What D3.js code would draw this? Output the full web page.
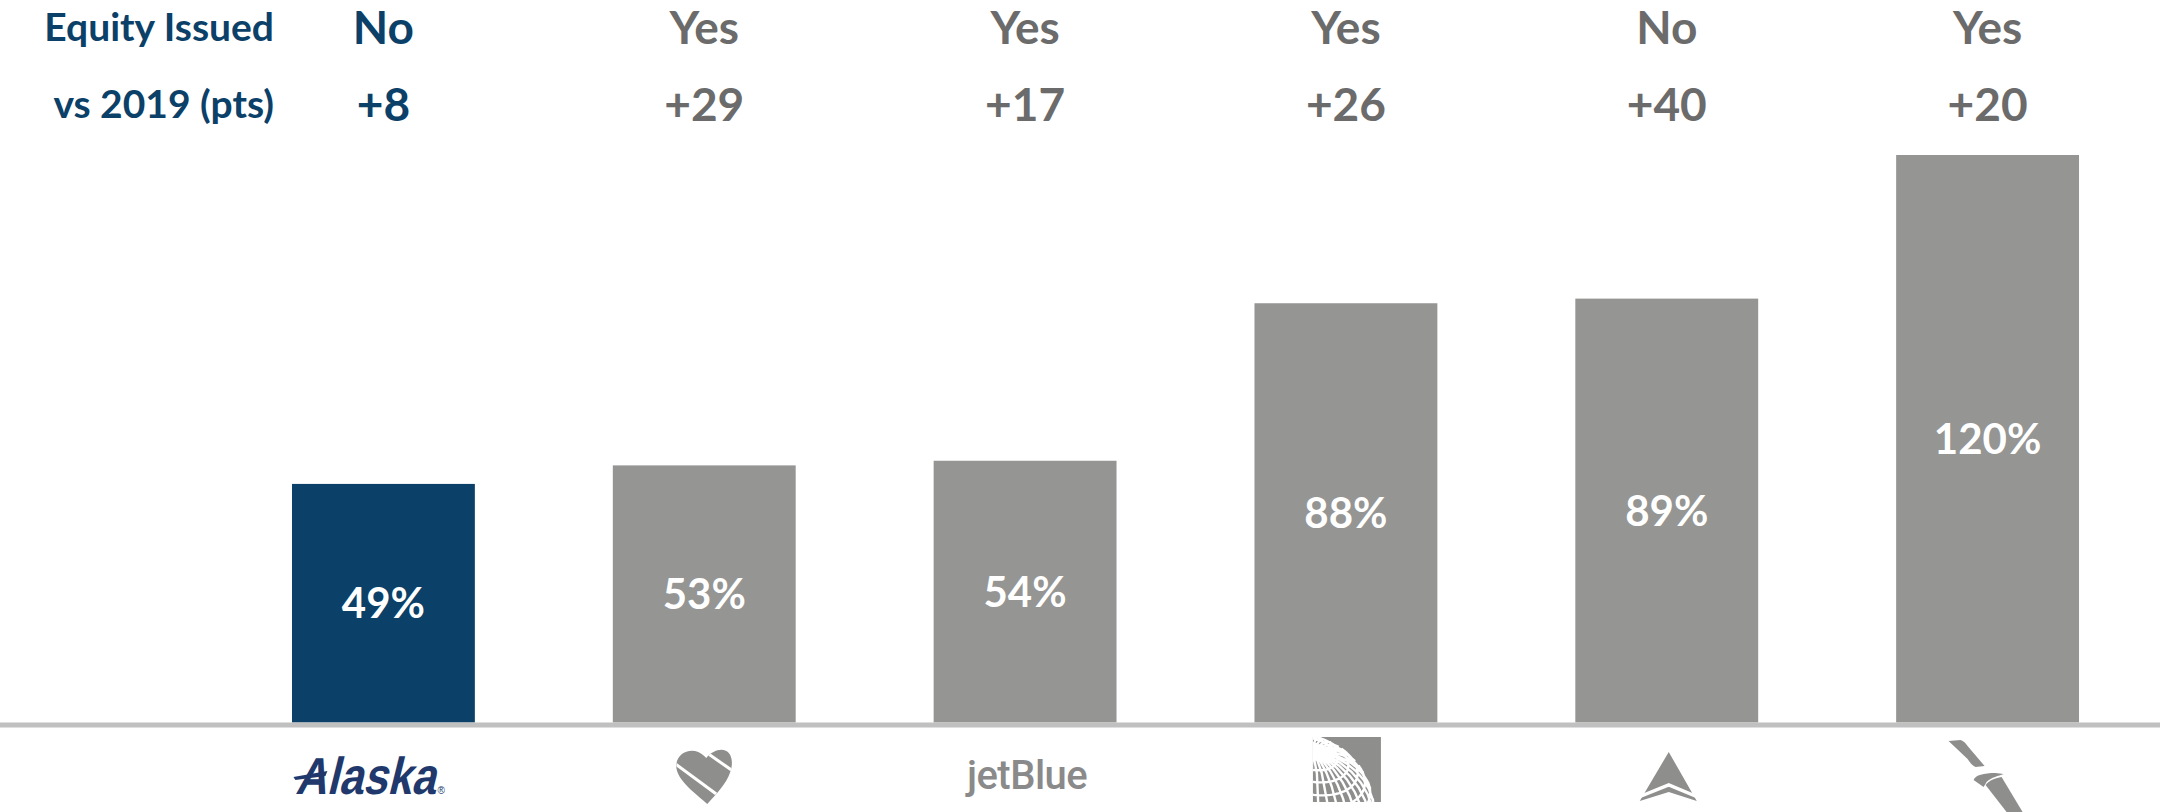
<!DOCTYPE html>
<html>
<head>
<meta charset="utf-8">
<script src="https://cdn.jsdelivr.net/npm/d3@7"></script>
<style>
  html, body { margin: 0; padding: 0; background: #fff; }
  svg { display: block; }
</style>
</head>
<body>
<svg width="2160" height="812"></svg>
<script>
"use strict";

// airline order as in the slide
var airlines = ['Alaska', 'Southwest', 'JetBlue', 'United', 'Delta', 'American'];
var ratios = [49, 53, 54, 88, 89, 120];          // % shown in the bars
var equityIssued = ['No', 'Yes', 'Yes', 'Yes', 'No', 'Yes'];
var vs2019 = ['+8', '+29', '+17', '+26', '+40', '+20'];
var rowLabels = ['Equity Issued', 'vs 2019 (pts)'];

var W = 2160, H = 812;
var navy = '#0b4068', grey = '#959594', greyText = '#6b6b6b', logoGrey = '#8e8e8d';
var baseY = 722.5;

var svg = d3.select('svg');

var x = d3.scaleBand()
  .domain(airlines)
  .range([223, 2148])
  .paddingInner(0.43)
  .paddingOuter(0.215);

var y = d3.scaleLinear()
  .domain([-2.5, 120])
  .range([baseY, 155]);

var rows = airlines.map((a, i) => ({name: a, v: ratios[i], eq: equityIssued[i], d: vs2019[i]}));

// bars
svg.append('g').selectAll('rect')
  .data(rows)
  .enter()
  .append('rect')
  .attr('x', d => x(d.name))
  .attr('y', d => y(d.v))
  .attr('width', x.bandwidth())
  .attr('height', d => baseY - y(d.v))
  .attr('fill', d => d.name === 'Alaska' ? navy : grey);

// value labels, centred in the bar
svg.append('g').selectAll('text')
  .data(rows)
  .enter()
  .append('text')
  .attr('x', d => x(d.name) + x.bandwidth() / 2)
  .attr('y', d => (y(d.v) + baseY) / 2)
  .attr('dy', '0.36em')
  .attr('text-anchor', 'middle')
  .attr('fill', '#fff')
  .attr('font-family', 'Lato, sans-serif')
  .attr('font-weight', 700)
  .attr('font-size', 42)
  .text(d => d.v + '%');

// baseline
svg.append('line')
  .attr('x1', 0).attr('x2', W)
  .attr('y1', baseY + 2.5).attr('y2', baseY + 2.5)
  .attr('stroke', '#c0c0c0')
  .attr('stroke-width', 5);

// header rows
var header = svg.append('g').attr('font-family', 'Lato, sans-serif').attr('font-weight', 700);
var rowY = [27, 104];

header.selectAll('text.lbl')
  .data(rowLabels)
  .enter()
  .append('text')
  .attr('class', 'lbl')
  .attr('x', 274)
  .attr('y', (d, i) => rowY[i])
  .attr('dy', '0.36em')
  .attr('text-anchor', 'end')
  .attr('font-size', 39)
  .attr('fill', navy)
  .text(d => d);

[['eq', 0], ['d', 1]].forEach(function (r) {
  header.append('g').selectAll('text')
    .data(rows)
    .enter()
    .append('text')
    .attr('x', d => x(d.name) + x.bandwidth() / 2)
    .attr('y', rowY[r[1]])
    .attr('dy', '0.36em')
    .attr('text-anchor', 'middle')
    .attr('font-size', 46)
    .attr('fill', d => d.name === 'Alaska' ? navy : greyText)
    .text(d => d[r[0]]);
});

// logos under the axis
var logoY = 776;
function logo(name) {
  return svg.append('g')
    .attr('transform', 'translate(' + (x(name) + x.bandwidth() / 2) + ',' + logoY + ')');
}

// Alaska wordmark
var ak = logo('Alaska');
ak.append('text')
  .attr('transform', 'skewX(-14)')
  .attr('x', -84).attr('y', 18)
  .attr('font-family', '"Liberation Sans", sans-serif')
  .attr('font-weight', 700)
  .attr('font-size', 52)
  .attr('textLength', 140)
  .attr('lengthAdjust', 'spacingAndGlyphs')
  .attr('fill', '#20386b')
  .text('Alaska');
ak.append('path')
  .attr('d', 'M-90,1 L-56,-5 L-58,0 L-88,4 Z')
  .attr('fill', '#20386b');
ak.append('text')
  .attr('x', 54).attr('y', 18)
  .attr('font-family', 'sans-serif')
  .attr('font-size', 10)
  .attr('fill', '#20386b')
  .text('®');

// Southwest heart
var heartD = 'M3,28 C-8,18 -28,4 -28,-10 C-28,-22 -16,-28 -6,-24 C-2,-22 0,-20 2,-18 C8,-25 16,-28 22,-25 C28,-22 29,-12 26,-4 C22,8 12,18 3,28 Z';
var sw = logo('Southwest');
sw.append('clipPath').attr('id', 'heartClip')
  .append('path')
  .attr('d', heartD);
sw.append('path')
  .attr('d', heartD)
  .attr('fill', logoGrey);
sw.append('g').attr('clip-path', 'url(#heartClip)')
  .selectAll('line')
  .data([[-30, -13, 12, 18], [0, -25, 30, -4]])
  .enter()
  .append('line')
  .attr('x1', d => d[0]).attr('y1', d => d[1])
  .attr('x2', d => d[2]).attr('y2', d => d[3])
  .attr('stroke', '#fff')
  .attr('stroke-width', 3);

// jetBlue wordmark
logo('JetBlue').append('text')
  .attr('x', 2)
  .attr('y', 13)
  .attr('text-anchor', 'middle')
  .attr('font-family', 'Roboto, sans-serif')
  .attr('font-weight', 500)
  .attr('font-size', 40)
  .attr('letter-spacing', -0.5)
  .attr('fill', '#8a8a8a')
  .text('jetBlue');

// United globe
var ua = logo('United');
ua.append('clipPath').attr('id', 'uaClip')
  .append('rect').attr('x', -33).attr('y', -39).attr('width', 68).attr('height', 65);
ua.append('rect').attr('x', -33).attr('y', -39).attr('width', 68).attr('height', 65).attr('fill', logoGrey);
var proj = d3.geoOrthographic()
  .scale(78)
  .translate([-50, 36])
  .rotate([20, -35, -15]);
var gpath = d3.geoPath(proj);
ua.append('g').attr('clip-path', 'url(#uaClip)')
  .append('path')
  .datum(d3.geoGraticule().step([10, 10])())
  .attr('d', gpath)
  .attr('fill', 'none')
  .attr('stroke', '#fff')
  .attr('stroke-width', 2.4);

// Delta widget
var dl = logo('Delta');
dl.append('path')
  .attr('d', 'M2,-24 L30,25 L2,16 L-27,25 Z')
  .attr('fill', logoGrey);
dl.append('path')
  .attr('d', 'M-28,21 L2,9 L31,21')
  .attr('fill', 'none')
  .attr('stroke', '#fff')
  .attr('stroke-width', 3.5);

// American flight symbol
var aa = logo('American');
aa.append('path')
  .attr('d', 'M-39,-35 L-27,-36 C-24,-35 -22,-33 -20,-30 L-3,-10 L-12,-9 C-16,-11 -18,-14 -20,-17 Z')
  .attr('fill', logoGrey);
aa.append('path')
  .attr('d', 'M-14,4 C-12,-1 -4,-3 8,-3 L16,-2 C11,0 4,1 -1,6 L-4,11 Z')
  .attr('fill', logoGrey);
aa.append('path')
  .attr('d', 'M-2,9 C2,4 8,2 14,1 L35,36 L19,36 Z')
  .attr('fill', logoGrey);
</script>
</body>
</html>
